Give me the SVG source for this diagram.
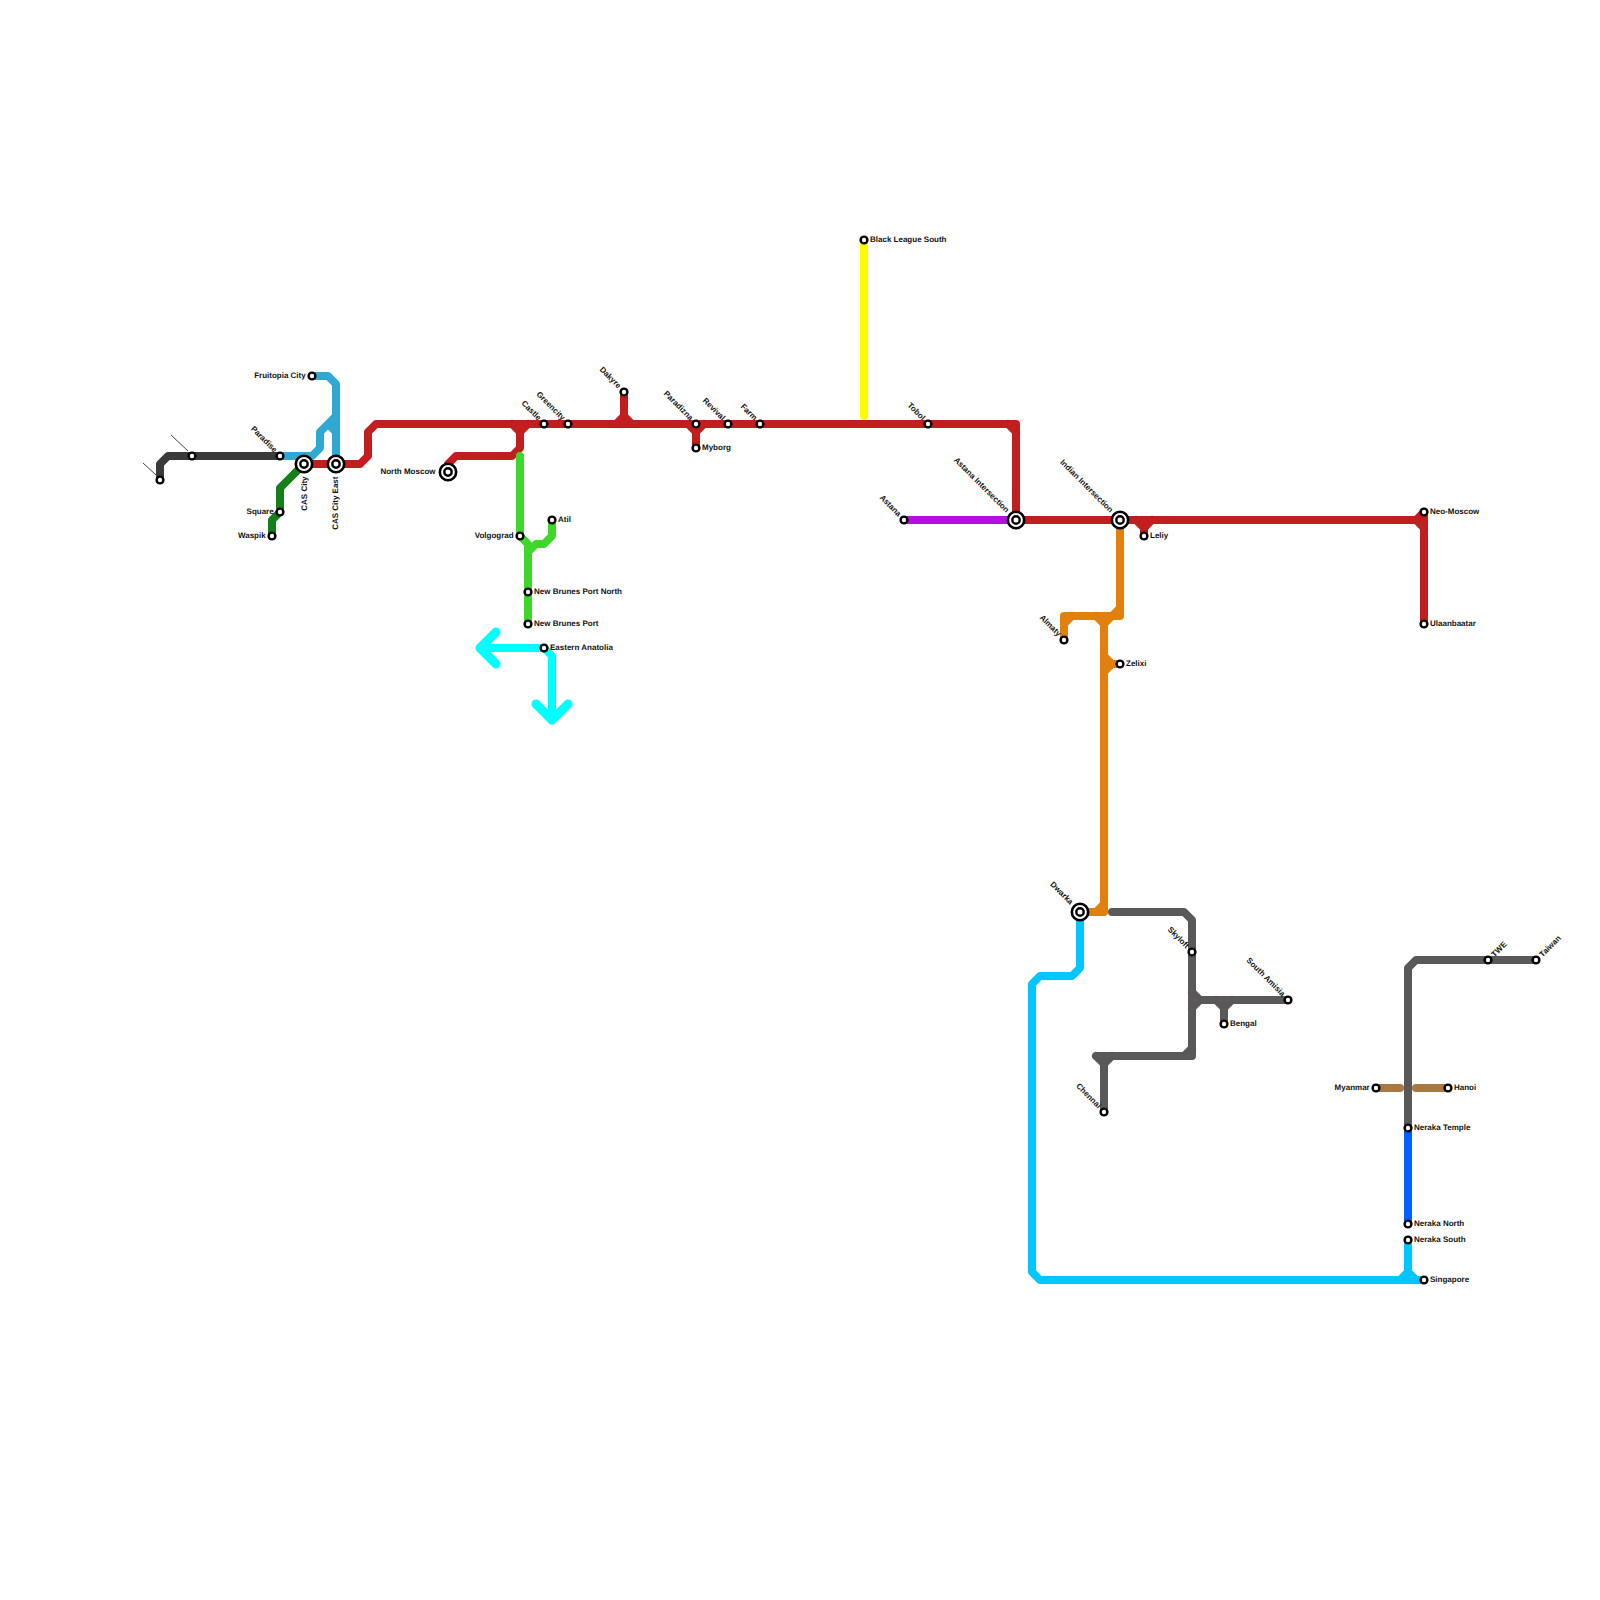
<svg xmlns="http://www.w3.org/2000/svg" width="1600" height="1600" viewBox="0 0 1600 1600">
<style>
.l{fill:none;stroke-width:8;stroke-linecap:round;stroke-linejoin:round}
.s{fill:#fff;stroke:#000;stroke-width:2.4}
.i{fill:#fff;stroke:#000;stroke-width:2.6}
.c{fill:#fff;stroke:#000;stroke-width:2.4}
text{font-family:"Liberation Sans",Arial,sans-serif;font-size:8px;font-weight:bold;fill:#111;text-rendering:geometricPrecision}
.e{text-anchor:end}
</style>
<rect width="1600" height="1600" fill="#fff"/>
<g id="connectors">
<path class="l" stroke="#3a3a3a" d="M160 480V464L168 456H280"/>
<path d="M188 451L171 435M156 475L143 463" stroke="#444" stroke-width="1" fill="none"/>
<path class="l" stroke="#2fa9d3" d="M312 376H328L336 384V464M336 416L320 432V448L312 456H280M328 424L336 432"/>
<path class="l" stroke="#157f1a" d="M304 464L280 488V512L272 520V536"/>
<path class="l" stroke="#c11f1f" d="M304 464H360L368 456V432L376 424H1016V520M1008 424L1016 432M448 472V464L456 456H512L520 448V424M512 424L520 432L528 424M624 392V424M616 424L624 416L632 424M688 424L696 432L704 424M696 424V448M1016 520H1416M1136 520L1144 528L1152 520M1144 528V536M1424 512L1416 520L1424 528M1424 512V624"/>
<path class="l" stroke="#3ed82b" d="M520 456V536L528 544V624M552 520V536L544 544H536L528 552"/>
<path class="l" stroke="#00ffff" d="M544 648L552 656V720M544 648H480"/>
<path class="l" stroke="#00ffff" style="stroke-width:9" d="M536 704L552 720L568 704M496 632L480 648L496 664"/>
<path class="l" stroke="#ffff00" d="M864 240V416"/>
<path class="l" stroke="#b30fe0" d="M904 520H1016"/>
<path class="l" stroke="#e2800e" d="M1120 520V616H1064V640M1064 624L1072 616M1112 616L1120 608M1096 616L1104 624L1112 616M1104 616V912H1080M1096 912L1104 904M1104 656L1112 664L1104 672M1112 664H1120"/>
<path class="l" stroke="#00c6ff" d="M1080 912V968L1072 976H1040L1032 984V1272L1040 1280H1424M1408 1240V1280M1400 1280L1408 1272L1416 1280"/>
<path class="l" stroke="#5a5859" d="M1112 912H1184L1192 920V1056H1096M1184 1056L1192 1048M1096 1056L1104 1064L1112 1056M1104 1056V1112M1192 992L1200 1000L1192 1008M1200 1000H1288M1216 1000L1224 1008L1232 1000M1224 1008V1024M1408 1128V968L1416 960H1536"/>
<path class="l" stroke="#a87a41" d="M1376 1088H1400M1416 1088H1448"/>
<path class="l" stroke="#0061ff" d="M1408 1128V1224"/>
</g>
<g id="n1"><circle class="s" cx="160" cy="480" r="3.4"/></g>
<g id="n2"><circle class="s" cx="192" cy="456" r="3.4"/></g>
<g id="paradise"><circle class="s" cx="280" cy="456" r="3.4"/><text class="e" transform="translate(274 452.8) rotate(45)">Paradise</text></g>
<g id="fruitopia"><circle class="s" cx="312" cy="376" r="3.4"/><text class="e" x="305.7" y="378">Fruitopia City</text></g>
<g id="square"><circle class="s" cx="280" cy="512" r="3.4"/><text class="e" x="273.7" y="514">Square</text></g>
<g id="waspik"><circle class="s" cx="272" cy="536" r="3.4"/><text class="e" x="265.7" y="538">Waspik</text></g>
<g id="cas-city"><circle class="i" cx="304" cy="464" r="8.2"/><circle class="c" cx="304" cy="464" r="3.7"/><text class="e" transform="translate(306.5 476.5) rotate(-90)">CAS City</text></g>
<g id="cas-city-east"><circle class="i" cx="336" cy="464" r="8.2"/><circle class="c" cx="336" cy="464" r="3.7"/><text class="e" transform="translate(338 476.5) rotate(-90)">CAS City East</text></g>
<g id="north-moscow"><circle class="i" cx="448" cy="472" r="8.2"/><circle class="c" cx="448" cy="472" r="3.7"/><text class="e" x="435.5" y="474">North Moscow</text></g>
<g id="castle"><circle class="s" cx="544" cy="424" r="3.4"/><text class="e" transform="translate(538 420.8) rotate(45)">Castle</text></g>
<g id="greencity"><circle class="s" cx="568" cy="424" r="3.4"/><text class="e" transform="translate(562 420.8) rotate(45)">Greencity</text></g>
<g id="dakyre"><circle class="s" cx="624" cy="392" r="3.4"/><text class="e" transform="translate(618 388.8) rotate(45)">Dakyre</text></g>
<g id="paradizna"><circle class="s" cx="696" cy="424" r="3.4"/><text class="e" transform="translate(690 420.8) rotate(45)">Paradizna</text></g>
<g id="myborg"><circle class="s" cx="696" cy="448" r="3.4"/><text x="702" y="450">Myborg</text></g>
<g id="revival"><circle class="s" cx="728" cy="424" r="3.4"/><text class="e" transform="translate(722 420.8) rotate(45)">Revival</text></g>
<g id="farm"><circle class="s" cx="760" cy="424" r="3.4"/><text class="e" transform="translate(754 420.8) rotate(45)">Farm</text></g>
<g id="tobol"><circle class="s" cx="928" cy="424" r="3.4"/><text class="e" transform="translate(922 420.8) rotate(45)">Tobol</text></g>
<g id="black-league-south"><circle class="s" cx="864" cy="240" r="3.4"/><text x="870" y="242">Black League South</text></g>
<g id="volgograd"><circle class="s" cx="520" cy="536" r="3.4"/><text class="e" x="513.7" y="538">Volgograd</text></g>
<g id="atil"><circle class="s" cx="552" cy="520" r="3.4"/><text x="558" y="522">Atil</text></g>
<g id="nbpn"><circle class="s" cx="528" cy="592" r="3.4"/><text x="534" y="594">New Brunes Port North</text></g>
<g id="nbp"><circle class="s" cx="528" cy="624" r="3.4"/><text x="534" y="626">New Brunes Port</text></g>
<g id="eastern-anatolia"><circle class="s" cx="544" cy="648" r="3.4"/><text x="550" y="650">Eastern Anatolia</text></g>
<g id="astana"><circle class="s" cx="904" cy="520" r="3.4"/><text class="e" transform="translate(898 516.8) rotate(45)">Astana</text></g>
<g id="astana-intersection"><circle class="i" cx="1016" cy="520" r="8.2"/><circle class="c" cx="1016" cy="520" r="3.7"/><text class="e" transform="translate(1006 513) rotate(45)">Astana Intersection</text></g>
<g id="indian-intersection"><circle class="i" cx="1120" cy="520" r="8.2"/><circle class="c" cx="1120" cy="520" r="3.7"/><text class="e" transform="translate(1110 513) rotate(45)">Indian Intersection</text></g>
<g id="leliy"><circle class="s" cx="1144" cy="536" r="3.4"/><text x="1150" y="538">Leliy</text></g>
<g id="neo-moscow"><circle class="s" cx="1424" cy="512" r="3.4"/><text x="1430" y="514">Neo-Moscow</text></g>
<g id="ulaanbaatar"><circle class="s" cx="1424" cy="624" r="3.4"/><text x="1430" y="626">Ulaanbaatar</text></g>
<g id="almaty"><circle class="s" cx="1064" cy="640" r="3.4"/><text class="e" transform="translate(1058 636.8) rotate(45)">Almaty</text></g>
<g id="zelixi"><circle class="s" cx="1120" cy="664" r="3.4"/><text x="1126" y="666">Zelixi</text></g>
<g id="dwarka"><circle class="i" cx="1080" cy="912" r="8.2"/><circle class="c" cx="1080" cy="912" r="3.7"/><text class="e" transform="translate(1070 905) rotate(45)">Dwarka</text></g>
<g id="skyloft"><circle class="s" cx="1192" cy="952" r="3.4"/><text class="e" transform="translate(1186 948.8) rotate(45)">Skyloft</text></g>
<g id="south-amisia"><circle class="s" cx="1288" cy="1000" r="3.4"/><text class="e" transform="translate(1282 996.8) rotate(45)">South Amisia</text></g>
<g id="bengal"><circle class="s" cx="1224" cy="1024" r="3.4"/><text x="1230" y="1026">Bengal</text></g>
<g id="chennai"><circle class="s" cx="1104" cy="1112" r="3.4"/><text class="e" transform="translate(1098 1108.8) rotate(45)">Chennai</text></g>
<g id="twe"><circle class="s" cx="1488" cy="960" r="3.4"/><text transform="translate(1494.6 957.4) rotate(-45)">TWE</text></g>
<g id="taiwan"><circle class="s" cx="1536" cy="960" r="3.4"/><text transform="translate(1542.6 957.4) rotate(-45)">Taiwan</text></g>
<g id="myanmar"><circle class="s" cx="1376" cy="1088" r="3.4"/><text class="e" x="1369.7" y="1090">Myanmar</text></g>
<g id="hanoi"><circle class="s" cx="1448" cy="1088" r="3.4"/><text x="1454" y="1090">Hanoi</text></g>
<g id="neraka-temple"><circle class="s" cx="1408" cy="1128" r="3.4"/><text x="1414" y="1130">Neraka Temple</text></g>
<g id="neraka-north"><circle class="s" cx="1408" cy="1224" r="3.4"/><text x="1414" y="1226">Neraka North</text></g>
<g id="neraka-south"><circle class="s" cx="1408" cy="1240" r="3.4"/><text x="1414" y="1242">Neraka South</text></g>
<g id="singapore"><circle class="s" cx="1424" cy="1280" r="3.4"/><text x="1430" y="1282">Singapore</text></g>
</svg>
